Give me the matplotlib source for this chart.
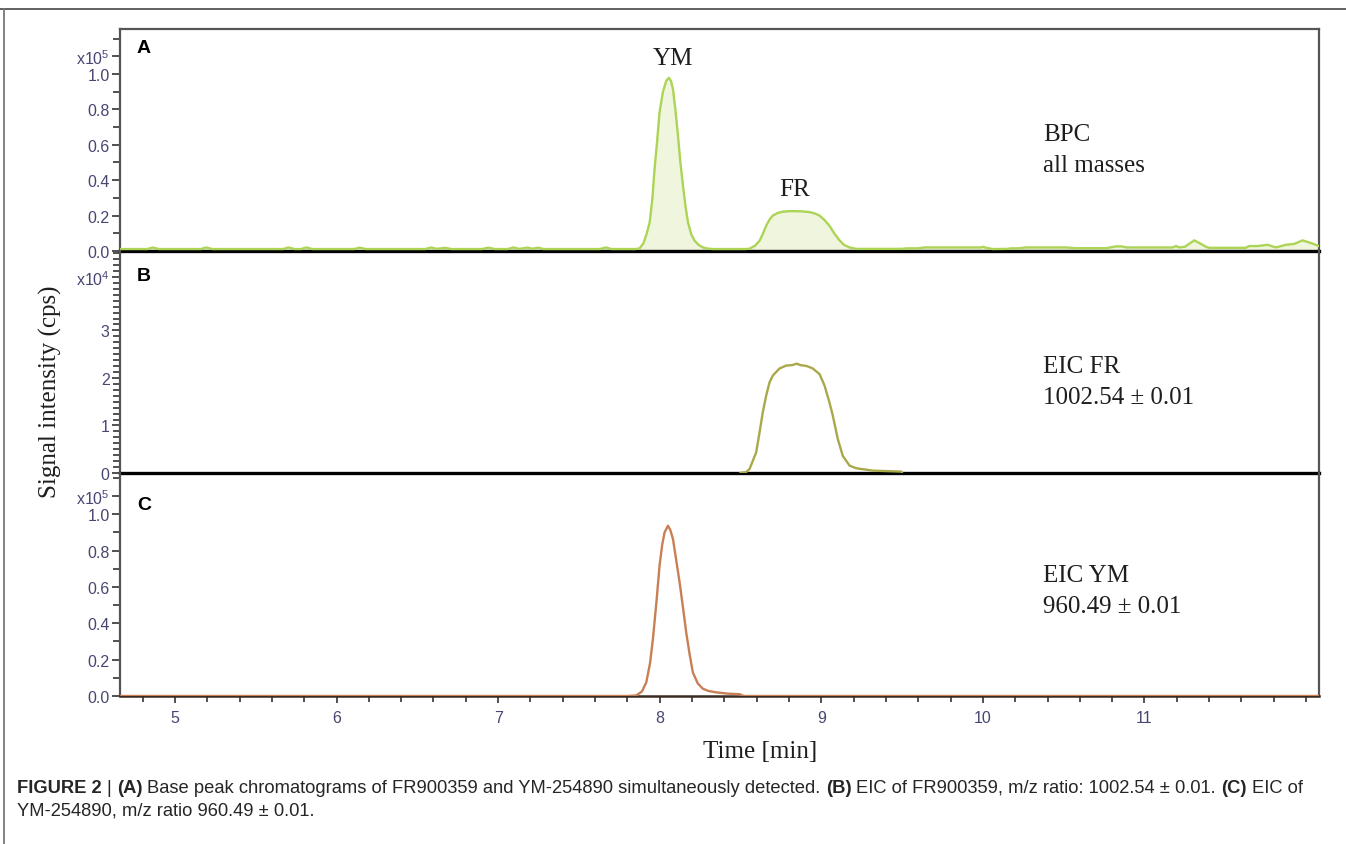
import matplotlib
matplotlib.use('Agg')
import matplotlib.pyplot as plt
from matplotlib.ticker import FixedLocator, FixedFormatter, MultipleLocator
from matplotlib.lines import Line2D

plt.rcParams['font.family'] = ['Liberation Sans', 'DejaVu Sans']
plt.rcParams['mathtext.fontset'] = 'custom'
plt.rcParams['mathtext.rm'] = 'Liberation Sans'
plt.rcParams['mathtext.it'] = 'Liberation Sans:italic'
plt.rcParams['mathtext.bf'] = 'Liberation Sans:bold'

# ---------------- data ----------------
# Panel A: base peak chromatogram, intensity in units of 1e5 cps
time_bpc = [4.66, 4.83, 4.863, 4.90, 5.16, 5.194, 5.23, 5.67, 5.702, 5.74, 5.78, 5.813, 5.85,
            6.11, 6.144, 6.18, 6.55, 6.586, 6.62, 6.674, 6.71, 6.90, 6.939, 6.98, 7.06, 7.094,
            7.13, 7.182, 7.215, 7.248, 7.28, 7.63, 7.668, 7.70, 7.85,
            7.876, 7.90, 7.92, 7.938, 7.955, 7.968, 7.985, 7.999, 8.02, 8.041, 8.057, 8.07,
            8.082, 8.097, 8.113, 8.128, 8.144, 8.16, 8.175, 8.195, 8.216, 8.24, 8.267, 8.30, 8.33,
            8.53, 8.556, 8.59, 8.618, 8.64, 8.659, 8.68, 8.70, 8.73, 8.762, 8.80, 8.845, 8.89,
            8.927, 8.96, 8.989, 9.02, 9.05, 9.08, 9.113, 9.14, 9.175, 9.216,
            9.50, 9.525, 9.60, 9.638, 9.99, 10.00, 10.02, 10.06, 10.15, 10.174, 10.22, 10.267,
            10.514, 10.576, 10.762, 10.80, 10.824, 10.86, 10.886, 11.174, 11.195, 11.215, 11.25,
            11.308, 11.34, 11.38, 11.40, 11.627, 11.648, 11.70, 11.762, 11.813, 11.875, 11.927,
            11.978, 12.03, 12.08]
int_bpc = [0.011, 0.011, 0.020, 0.011, 0.011, 0.020, 0.011, 0.011, 0.020, 0.011, 0.011, 0.020, 0.011,
           0.011, 0.019, 0.011, 0.011, 0.020, 0.012, 0.018, 0.011, 0.011, 0.019, 0.011, 0.011, 0.020,
           0.012, 0.019, 0.013, 0.019, 0.011, 0.011, 0.020, 0.011, 0.011,
           0.015, 0.045, 0.100, 0.162, 0.300, 0.463, 0.630, 0.784, 0.900, 0.962, 0.978, 0.960,
           0.915, 0.800, 0.651, 0.500, 0.369, 0.250, 0.162, 0.095, 0.058, 0.035, 0.020, 0.013, 0.011,
           0.011, 0.013, 0.030, 0.058, 0.100, 0.143, 0.178, 0.200, 0.215, 0.222, 0.225, 0.225, 0.223,
           0.220, 0.212, 0.200, 0.175, 0.143, 0.100, 0.060, 0.035, 0.020, 0.012,
           0.012, 0.015, 0.015, 0.020, 0.020, 0.024, 0.018, 0.011, 0.012, 0.015, 0.015, 0.020,
           0.020, 0.016, 0.016, 0.022, 0.026, 0.026, 0.020, 0.020, 0.028, 0.020, 0.024,
           0.060, 0.045, 0.024, 0.018, 0.018, 0.028, 0.028, 0.035, 0.020, 0.035, 0.040,
           0.060, 0.045, 0.028]

# Panel B: EIC of FR900359 (m/z 1002.54), intensity in units of 1e4 cps
time_eic_fr = [8.50, 8.535, 8.556, 8.597, 8.618, 8.638, 8.659, 8.68, 8.70, 8.742, 8.783, 8.82,
               8.848, 8.87, 8.91, 8.947, 8.989, 9.02, 9.05, 9.071, 9.102, 9.133, 9.175, 9.216,
               9.278, 9.318, 9.40, 9.494, 9.50]
int_eic_fr = [0.0, 0.02, 0.084, 0.435, 0.856, 1.28, 1.63, 1.91, 2.05, 2.20, 2.26, 2.27,
              2.30, 2.27, 2.25, 2.20, 2.08, 1.84, 1.49, 1.21, 0.716, 0.36, 0.155, 0.10,
              0.07, 0.05, 0.04, 0.03, 0.0]

# Panel C: EIC of YM-254890 (m/z 960.49), intensity in units of 1e5 cps
time_eic_ym = [4.66, 7.80, 7.855, 7.89, 7.917, 7.94, 7.958, 7.98, 7.999, 8.015, 8.030, 8.051,
               8.065, 8.082, 8.10, 8.123, 8.145, 8.164, 8.185, 8.205, 8.235, 8.267, 8.30, 8.35,
               8.42, 8.494, 8.52, 12.08]
int_eic_ym = [0.0, 0.0, 0.003, 0.025, 0.075, 0.18, 0.314, 0.52, 0.717, 0.83, 0.90, 0.937,
              0.915, 0.864, 0.76, 0.626, 0.48, 0.35, 0.23, 0.13, 0.07, 0.04, 0.028, 0.02,
              0.013, 0.01, 0.0, 0.0]

x_ticks = [5, 6, 7, 8, 9, 10, 11]
y_ticks_ac = [0.0, 0.2, 0.4, 0.6, 0.8, 1.0]
y_ticks_b = [0, 1, 2, 3]
scale_ac = 'x10$^{5}$'
scale_b = 'x10$^{4}$'
panel_letters = ['A', 'B', 'C']
peak_labels = ['YM', 'FR']
trace_labels = [['BPC', 'all masses'], ['EIC FR', '1002.54 \u00b1 0.01'], ['EIC YM', '960.49 \u00b1 0.01']]
x_label = 'Time [min]'
y_label = 'Signal intensity (cps)'
caption1 = [('FIGURE 2', True, True), ('|', False, True), ('(A)', True, True),
            ('Base peak chromatograms of FR900359 and YM-254890 simultaneously detected.', False, True),
            ('(B)', True, True), ('EIC of FR900359, m/z ratio: 1002.54 \u00b1 0.01.', False, True),
            ('(C)', True, True), ('EIC of', False, False)]
caption2 = [('YM-254890, m/z ratio 960.49 \u00b1 0.01.', False, False)]

# ---------------- figure ----------------
W, H = 1346, 845
fig = plt.figure(figsize=(W / 100, H / 100), dpi=100)


def fx(px):
    return px / W


def fy(py):
    return 1 - py / H


L, R = 120, 1319
axA = fig.add_axes([fx(L), fy(252), (R - L) / W, (252 - 30) / H])
axB = fig.add_axes([fx(L), fy(474), (R - L) / W, (474 - 252) / H])
axC = fig.add_axes([fx(L), fy(697), (R - L) / W, (697 - 474) / H])

green_line = '#acd455'
green_fill = '#f0f6de'
olive_line = '#a9a84a'
orange_line = '#c97f56'
tick_lab_col = '#464672'
spine_gray = '#555555'

axA.fill_between(time_bpc, 0, int_bpc, color=green_fill, lw=0, zorder=1)
axA.plot(time_bpc, int_bpc, color=green_line, lw=1.7, zorder=3)
axB.plot(time_eic_fr, int_eic_fr, color=olive_line, lw=1.7, zorder=3)
axC.plot(time_eic_ym, int_eic_ym, color=orange_line, lw=1.7, zorder=3)

for ax in (axA, axB, axC):
    ax.set_xlim(4.66, 12.08)
    ax.set_facecolor('none')
    for s in ('left', 'right', 'top'):
        ax.spines[s].set_color(spine_gray)
        ax.spines[s].set_linewidth(1.6)
    ax.tick_params(axis='y', which='both', direction='out', color='#333333', width=1.2,
                   labelsize=11.5, labelcolor=tick_lab_col, pad=2)
    ax.tick_params(axis='y', which='major', length=5.5)
    ax.tick_params(axis='y', which='minor', length=5)

for ax in (axB, axC):
    ax.spines['top'].set_visible(False)

for ax in (axA, axB):
    ax.spines['bottom'].set_color('black')
    ax.spines['bottom'].set_linewidth(2.4)
    ax.tick_params(axis='x', which='both', bottom=False, labelbottom=False)

axC.spines['bottom'].set_color('#3a2a22')
axC.spines['bottom'].set_linewidth(1.8)

# y axes
for ax, top in ((axA, 1.254), (axC, 1.227)):
    ax.set_ylim(0, top)
    ax.yaxis.set_major_locator(FixedLocator(y_ticks_ac + [1.1]))
    ax.yaxis.set_major_formatter(FixedFormatter(['%.1f' % v for v in y_ticks_ac] + [scale_ac]))
    ax.yaxis.set_minor_locator(MultipleLocator(0.1))

axB.set_ylim(0, 4.67)
axB.yaxis.set_major_locator(FixedLocator(y_ticks_b + [4.125]))
axB.yaxis.set_major_formatter(FixedFormatter([str(v) for v in y_ticks_b] + [scale_b]))
axB.yaxis.set_minor_locator(MultipleLocator(0.125))

# x axis
axC.xaxis.set_major_locator(FixedLocator(x_ticks))
axC.xaxis.set_minor_locator(MultipleLocator(0.2))
axC.tick_params(axis='x', which='both', direction='out', color='#333333', width=1.2,
                labelsize=11.5, labelcolor=tick_lab_col, pad=5)
axC.tick_params(axis='x', which='major', length=5)
axC.tick_params(axis='x', which='minor', length=4)

# panel letters
for letter, yb in zip(panel_letters, (53, 281, 510)):
    fig.text(fx(137), fy(yb), letter, fontsize=14, fontweight='bold', color='black',
             ha='left', va='baseline')

serif = dict(family=['Liberation Serif', 'DejaVu Serif'], fontsize=18, color='#1e1e1e')
fig.text(fx(673), fy(65), peak_labels[0], ha='center', va='baseline', **serif)
fig.text(fx(795), fy(196), peak_labels[1], ha='center', va='baseline', **serif)
for (l1, l2), yb in zip(trace_labels, (141, 373, 582)):
    fig.text(fx(1043), fy(yb), l1, ha='left', va='baseline', **serif)
    fig.text(fx(1043), fy(yb + 31), l2, ha='left', va='baseline', **serif)

fig.text(fx(760), fy(758), x_label, ha='center', va='baseline', **serif)
fig.text(fx(50), fy(392), y_label, ha='center', va='center', rotation=90, **serif)

# frame lines
fig.add_artist(Line2D([0, 1], [fy(10), fy(10)], transform=fig.transFigure, color='#555555', lw=1.3))
fig.add_artist(Line2D([fx(4), fx(4)], [fy(10), 0], transform=fig.transFigure, color='#777777', lw=1.3))

# caption with mixed weights
cap_col = '#262626'
renderer = fig.canvas.get_renderer()


def space_w(size):
    a = fig.text(0, 0, 'x x', fontsize=size)
    b = fig.text(0, 0, 'xx', fontsize=size)
    w = a.get_window_extent(renderer).width - b.get_window_extent(renderer).width
    a.remove()
    b.remove()
    return w


def run_width(runs, size):
    tot = 0
    for txt, bold, sp in runs:
        t = fig.text(0, 0, txt, fontsize=size, fontweight='bold' if bold else 'normal')
        tot += t.get_window_extent(renderer).width
        t.remove()
        if sp:
            tot += space_w(size)
    return tot


base = 12.0
wfull = run_width(caption1, base)
cap_size = base * (1308 - 17) / wfull


def draw_runs(runs, x0, yb, size):
    x = x0
    for txt, bold, sp in runs:
        t = fig.text(fx(x), fy(yb), txt, fontsize=size, fontweight='bold' if bold else 'normal',
                     color=cap_col, ha='left', va='baseline')
        x = t.get_window_extent(renderer).x1
        if sp:
            x += space_w(size)


draw_runs(caption1, 17, 793, cap_size)
draw_runs(caption2, 17, 816, cap_size)

fig.savefig('out.png', dpi=100)
